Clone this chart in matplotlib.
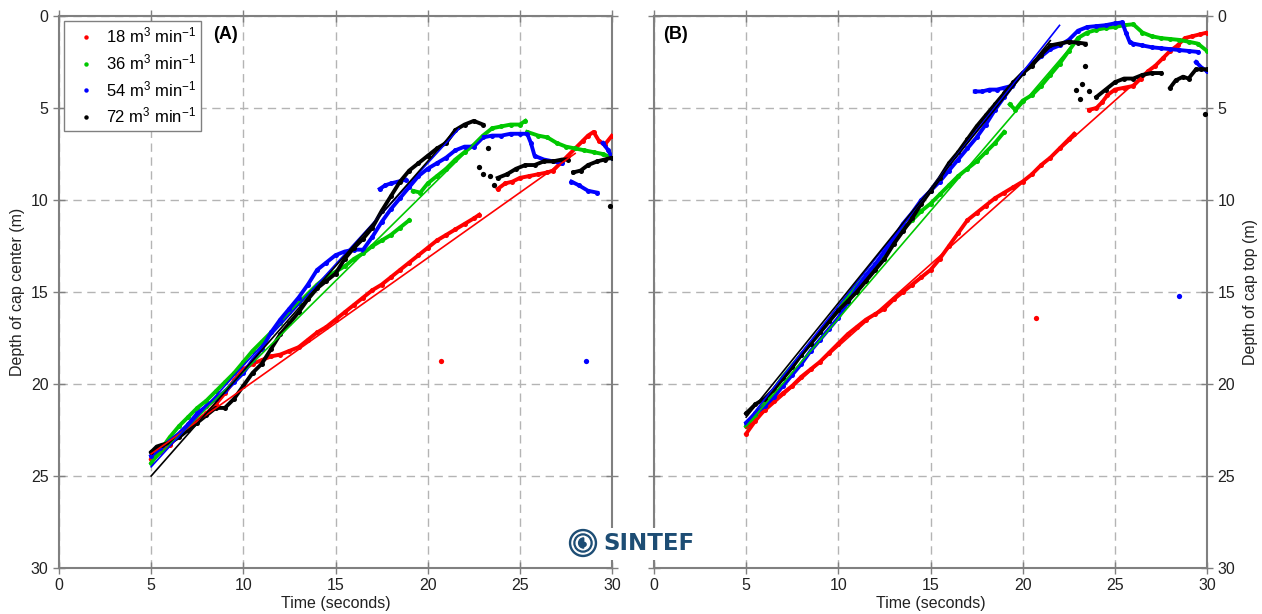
import numpy as np
import matplotlib
matplotlib.use("Agg")
import matplotlib.pyplot as plt
from matplotlib.patches import Circle, Wedge

plt.rcParams['font.family'] = ['Liberation Sans', 'DejaVu Sans']
plt.rcParams['mathtext.fontset'] = 'custom'
plt.rcParams['mathtext.rm'] = 'Liberation Sans'
plt.rcParams['mathtext.it'] = 'Liberation Sans:italic'

nan = np.nan

# flow rates / legend
labels = [r"18 m$^3$ min$^{-1}$", r"36 m$^3$ min$^{-1}$",
          r"54 m$^3$ min$^{-1}$", r"72 m$^3$ min$^{-1}$"]
colors = ['#ff0000', '#00c800', '#0000ff', '#000000']

# ---------------- panel A : depth of cap center ----------------
red_a_t = [5.0, 5.5, 6.0, 6.5, 7.0, 7.5, 8.0, 8.5, 9.0, 9.5, 10.0, 10.5, 11.0, 11.5,
           12.0, 12.5, 13.0, 13.5, 14.0, 14.5, 15.0, 15.5, 16.0, 16.5, 17.0, 17.5,
           18.0, 18.5, 19.0, 19.5, 20.0, 20.5, 21.0, 21.5, 22.0, 22.5, 22.8, nan,
           23.8, 24.2, 24.6, 25.0, 25.5, 26.0, 26.5, 26.8, 27.2, 27.6, 28.0, 28.4,
           28.7, 29.0, 29.3, 29.6, 30.0]
red_a_d = [24.1, 23.7, 23.3, 22.8, 22.4, 22.0, 21.6, 21.1, 20.5, 19.8, 19.2, 18.9, 18.7, 18.5,
           18.4, 18.2, 18.0, 17.6, 17.2, 16.9, 16.5, 16.1, 15.7, 15.3, 14.9, 14.6,
           14.2, 13.8, 13.4, 13.0, 12.6, 12.2, 11.9, 11.6, 11.3, 11.0, 10.8, nan,
           9.4, 9.1, 9.0, 8.8, 8.7, 8.6, 8.5, 8.4, 8.0, 7.6, 7.2, 6.8,
           6.5, 6.3, 6.8, 7.0, 6.5]
red_a_out_t = [20.7]
red_a_out_d = [18.75]

green_a_t = [5.0, 5.5, 6.0, 6.5, 7.0, 7.5, 8.0, 8.5, 9.0, 9.5, 10.0, 10.5, 11.0, 11.5,
             12.0, 12.5, 13.0, 13.5, 14.0, 14.5, 15.0, 15.5, 16.0, 16.5, 17.0, 17.5,
             18.0, 18.5, 19.0, nan, 19.2, 19.6, 20.0, 20.5, 21.0, 21.5, 22.0, 22.5,
             23.0, 23.5, 24.0, 24.5, 25.0, 25.3, nan, 25.4, 26.0, 26.5, 27.0, 27.5,
             28.0, 28.5, 29.0, 29.5, 30.0]
green_a_d = [24.3, 23.6, 22.9, 22.3, 21.8, 21.3, 20.9, 20.4, 19.9, 19.4, 18.8, 18.2, 17.7, 17.2,
             16.7, 16.1, 15.6, 15.1, 14.6, 14.2, 13.9, 13.6, 13.2, 12.9, 12.5, 12.2,
             11.9, 11.5, 11.1, nan, 9.5, 9.6, 9.1, 8.7, 8.3, 7.8, 7.4, 7.0,
             6.5, 6.1, 6.0, 5.9, 5.9, 5.7, nan, 6.3, 6.5, 6.6, 6.9, 7.1,
             7.2, 7.3, 7.4, 7.5, 7.7]
green_a_out_t = []
green_a_out_d = []

blue_a_t = [5.0, 5.5, 6.0, 6.5, 7.0, 7.5, 8.0, 8.5, 9.0, 9.5, 10.0, 10.5, 11.0, 11.5,
            12.0, 12.5, 13.0, 13.5, 14.0, 14.5, 15.0, 15.5, 16.0, 16.5, 17.0, 17.5,
            18.0, 18.5, 19.0, 19.5, 20.0, 20.5, 21.0, 21.5, 22.0, 22.5, 23.0, 23.5,
            24.0, 24.5, 25.0, 25.4, 25.6, 25.8, 26.3, 26.8, 27.3, nan, 27.8, 28.2,
            28.7, 29.2, nan, 29.5, 29.8, 30.0, nan, 17.4, 17.7, 18.0, 18.4, 18.8]
blue_a_d = [23.9, 23.5, 23.1, 22.7, 22.2, 21.6, 21.2, 20.8, 20.4, 19.9, 19.4, 18.7, 18.1, 17.2,
            16.5, 15.9, 15.3, 14.6, 13.8, 13.4, 13.0, 12.8, 12.7, 12.7, 12.0, 11.2,
            10.5, 9.9, 9.3, 8.7, 8.3, 8.0, 7.7, 7.3, 7.1, 7.1, 6.6, 6.5,
            6.5, 6.4, 6.4, 6.4, 6.9, 7.6, 7.8, 7.9, 8.0, nan, 9.0, 9.2,
            9.5, 9.6, nan, 6.9, 7.3, 7.7, nan, 9.4, 9.2, 9.1, 9.0, 8.9]
blue_a_out_t = [28.6]
blue_a_out_d = [18.75]

black_a_t = [5.0, 5.3, 5.6, 6.0, 6.5, 7.0, 7.5, 8.0, 8.5, 9.0, 9.5, 10.0, 10.5, 11.0,
             11.5, 12.0, 12.5, 13.0, 13.5, 14.0, 14.5, 15.0, 15.5, 16.0, 16.5, 17.0,
             17.5, 18.0, 18.5, 19.0, 19.5, 20.0, 20.5, 21.0, 21.5, 22.0, 22.5, 23.0, nan,
             23.8, 24.3, 24.8, 25.3, 25.8, 26.3, 26.8, 27.3, 27.6, nan,
             27.9, 28.3, 28.7, 29.2, 29.6, 30.0]
black_a_d = [23.7, 23.4, 23.3, 23.2, 22.9, 22.5, 22.1, 21.7, 21.3, 21.3, 20.8, 20.1, 19.4, 18.9,
             18.1, 17.3, 16.7, 16.1, 15.4, 14.8, 14.4, 14.0, 13.2, 12.6, 12.1, 11.5,
             10.6, 9.8, 9.0, 8.4, 8.0, 7.6, 7.2, 6.9, 6.2, 5.9, 5.7, 5.9, nan,
             8.8, 8.6, 8.3, 8.1, 8.1, 7.9, 7.9, 7.8, 7.8, nan,
             8.5, 8.4, 8.1, 7.9, 7.8, 7.7]
black_a_out_t = [22.8, 23.0, 23.3, 23.4, 23.6, 29.9]
black_a_out_d = [8.2, 8.6, 7.2, 8.7, 9.2, 10.3]

# linear fits (depth at t=5 s, ascent rate m/s, end time s)
fit_a_d5 = [23.8, 24.3, 24.5, 25.0]
fit_a_rate = [0.71, 0.99, 1.10, 1.14]
fit_a_end = [28.0, 22.9, 21.7, 21.5]

# ---------------- panel B : depth of cap top ----------------
red_b_t = [5.0, 5.5, 6.0, 6.5, 7.0, 7.5, 8.0, 8.5, 9.0, 9.5, 10.0, 10.5, 11.0, 11.5,
           12.0, 12.5, 13.0, 13.5, 14.0, 14.5, 15.0, 15.5, 16.0, 16.5, 17.0, 17.5,
           18.0, 18.5, 19.0, 19.5, 20.0, 20.5, 21.0, 21.5, 22.0, 22.5, 22.8, nan,
           23.6, 24.0, 24.3, 24.6, 25.0, 25.5, 26.0, 26.4, 26.8, 27.2, 27.6, 28.0,
           28.4, 28.8, 29.2, 29.6, 30.0]
red_b_d = [22.7, 22.0, 21.4, 20.9, 20.5, 20.1, 19.6, 19.2, 18.8, 18.3, 17.8, 17.3, 16.9, 16.5,
           16.2, 15.9, 15.4, 15.0, 14.6, 14.2, 13.8, 13.2, 12.5, 11.8, 11.1, 10.7,
           10.3, 9.9, 9.6, 9.3, 9.0, 8.6, 8.1, 7.7, 7.2, 6.7, 6.4, nan,
           5.1, 5.0, 4.7, 4.3, 4.0, 3.9, 3.8, 3.4, 3.0, 2.7, 2.3, 1.9,
           1.6, 1.2, 1.1, 1.0, 0.9]
red_b_out_t = [20.7]
red_b_out_d = [16.4]

green_b_t = [5.0, 5.5, 6.0, 6.5, 7.0, 7.5, 8.0, 8.5, 9.0, 9.5, 10.0, 10.5, 11.0, 11.5,
             12.0, 12.5, 13.0, 13.5, 14.0, 14.5, 15.0, 15.5, 16.0, 16.5, 17.0, 17.5,
             18.0, 18.5, 19.0, nan, 19.3, 19.6, 20.0, 20.5, 21.0, 21.5, 22.0, 22.5,
             23.0, 23.5, 24.0, 24.5, 25.0, 25.5, 26.0, 26.5, 27.0, 27.5, 28.0, 28.5,
             29.0, 29.5, 30.0]
green_b_d = [22.3, 21.7, 21.0, 20.3, 19.6, 19.0, 18.4, 17.8, 17.2, 16.6, 16.0, 15.3, 14.7, 14.1,
             13.5, 12.9, 12.2, 11.6, 11.1, 10.6, 10.2, 9.7, 9.2, 8.7, 8.3, 7.9,
             7.4, 6.9, 6.3, nan, 4.8, 5.1, 4.6, 4.3, 3.8, 3.2, 2.6, 1.9,
             1.2, 0.9, 0.75, 0.65, 0.6, 0.5, 0.45, 0.9, 1.1, 1.2, 1.25, 1.3,
             1.4, 1.5, 1.9]
green_b_out_t = []
green_b_out_d = []

blue_b_t = [5.0, 5.5, 6.0, 6.5, 7.0, 7.5, 8.0, 8.5, 9.0, 9.5, 10.0, 10.5, 11.0, 11.5,
            12.0, 12.5, 13.0, 13.5, 14.0, 14.5, 15.0, 15.5, 16.0, 16.5, 17.0, 17.5,
            18.0, 18.5, 19.0, 19.5, 20.0, 20.5, 21.0, 21.5, 22.0, 22.5, 23.0, 23.5,
            24.0, 24.5, 25.0, 25.4, 25.6, 25.8, 26.0, 26.5, 27.0, 27.5, 28.0, 28.5,
            29.0, 29.5, nan, 29.4, 29.7, 30.0, nan, 17.4, 17.8, 18.2, 18.6, 19.0, 19.4]
blue_b_d = [22.1, 21.6, 21.2, 20.7, 20.1, 19.5, 18.9, 18.2, 17.6, 17.0, 16.4, 15.6, 14.8, 14.1,
            13.5, 12.8, 12.1, 11.3, 10.7, 10.0, 9.5, 9.0, 8.4, 7.8, 7.2, 6.6,
            5.9, 5.1, 4.4, 3.7, 3.1, 2.6, 2.2, 1.8, 1.6, 1.3, 0.8, 0.6,
            0.55, 0.5, 0.4, 0.35, 0.9, 1.4, 1.5, 1.6, 1.7, 1.75, 1.8, 1.85,
            1.9, 1.95, nan, 2.5, 2.8, 3.0, nan, 4.1, 4.1, 4.0, 4.0, 3.9, 3.8]
blue_b_out_t = [28.5]
blue_b_out_d = [15.2]

black_b_t = [5.0, 5.5, 6.0, 6.5, 7.0, 7.5, 8.0, 8.5, 9.0, 9.5, 10.0, 10.5, 11.0, 11.5,
             12.0, 12.5, 13.0, 13.5, 14.0, 14.5, 15.0, 15.5, 16.0, 16.5, 17.0, 17.5,
             18.0, 18.5, 19.0, 19.5, 20.0, 20.5, 21.0, 21.5, 22.0, 22.5, 23.0, 23.4, nan,
             24.0, 24.5, 25.0, 25.5, 26.0, 26.5, 27.0, 27.5, nan,
             28.0, 28.3, 28.7, 29.0, 29.4, 29.7, 30.0]
black_b_d = [21.6, 21.1, 20.8, 20.3, 19.7, 19.1, 18.4, 17.8, 17.2, 16.6, 16.0, 15.5, 15.0, 14.4,
             13.8, 13.2, 12.4, 11.7, 11.0, 10.2, 9.5, 8.8, 8.0, 7.4, 6.7, 6.0,
             5.4, 4.8, 4.2, 3.6, 3.1, 2.7, 2.1, 1.6, 1.5, 1.4, 1.45, 1.5, nan,
             4.4, 4.0, 3.6, 3.4, 3.4, 3.2, 3.1, 3.1, nan,
             3.9, 3.5, 3.3, 3.4, 2.9, 2.9, 2.9]
black_b_out_t = [23.4, 23.2, 22.9, 23.1, 23.6, 29.9]
black_b_out_d = [2.7, 3.7, 4.0, 4.5, 4.1, 5.35]

fit_b_d5 = [22.4, 22.3, 22.1, 21.8]
fit_b_rate = [0.89, 1.17, 1.27, 1.24]
fit_b_end = [26.4, 22.7, 22.0, 21.5]

panel_a = [(red_a_t, red_a_d, red_a_out_t, red_a_out_d),
           (green_a_t, green_a_d, green_a_out_t, green_a_out_d),
           (blue_a_t, blue_a_d, blue_a_out_t, blue_a_out_d),
           (black_a_t, black_a_d, black_a_out_t, black_a_out_d)]
panel_b = [(red_b_t, red_b_d, red_b_out_t, red_b_out_d),
           (green_b_t, green_b_d, green_b_out_t, green_b_out_d),
           (blue_b_t, blue_b_d, blue_b_out_t, blue_b_out_d),
           (black_b_t, black_b_d, black_b_out_t, black_b_out_d)]

GRAY = '#808080'
LOGO = '#1d4d74'
W, H = 1262, 614


def style_axes(ax, right_labels=False):
    ax.set_xlim(0, 30)
    ax.set_ylim(30, 0)
    ax.set_xticks(range(0, 31, 5))
    ax.set_yticks(range(0, 31, 5))
    ax.grid(True, ls=(0, (6, 4)), color='#b4b4b4', lw=1.0)
    ax.set_axisbelow(True)
    for s in ax.spines.values():
        s.set_color(GRAY)
        s.set_linewidth(1.5)
    ax.tick_params(direction='inout', length=9, width=1, color=GRAY,
                   top=True, right=True, labelsize=11.5, labelcolor='#222222',
                   labelleft=not right_labels, labelright=right_labels, pad=3)
    ax.set_xlabel('Time (seconds)', fontsize=11.5, labelpad=2, color='#222222')


def draw_panel(ax, series, d5, rate, t_end):
    for (t, d, ot, od), c in zip(series, colors):
        ax.plot(t, d, '-o', color=c, lw=2.8, ms=3.6, mew=0, zorder=3)
        if ot:
            ax.plot(ot, od, 'o', color=c, ms=3.8, mew=0, zorder=3)
    for c, a, r, e in zip(colors, d5, rate, t_end):
        tt = np.array([5.0, e])
        ax.plot(tt, a - r * (tt - 5.0), color=c, lw=1.2, zorder=4)


fig = plt.figure(figsize=(W / 100, H / 100), dpi=100)
ax_a = fig.add_axes([59 / W, 1 - 568 / H, 553 / W, 552 / H])
ax_b = fig.add_axes([654 / W, 1 - 568 / H, 553 / W, 552 / H])

style_axes(ax_a)
style_axes(ax_b, right_labels=True)
ax_a.set_ylabel('Depth of cap center (m)', fontsize=11.5, labelpad=4, color='#222222')
ax_b.yaxis.set_label_position('right')
ax_b.set_ylabel('Depth of cap top (m)', fontsize=11.5, labelpad=6, color='#222222')

draw_panel(ax_a, panel_a, fit_a_d5, fit_a_rate, fit_a_end)
draw_panel(ax_b, panel_b, fit_b_d5, fit_b_rate, fit_b_end)

ax_a.text(0.278, 0.966, '(A)', transform=ax_a.transAxes, fontsize=13,
          fontweight='bold', va='center', ha='left')
ax_b.text(0.016, 0.966, '(B)', transform=ax_b.transAxes, fontsize=13,
          fontweight='bold', va='center', ha='left')

handles = [ax_a.plot([], [], 'o', color=c, ms=3.2, mew=0)[0] for c in colors]
leg = ax_a.legend(handles, labels, loc='upper left', bbox_to_anchor=(0.009, 0.991),
                  borderaxespad=0, fontsize=12, frameon=True, fancybox=False,
                  handlelength=2.1, handletextpad=0.12, labelspacing=0.4,
                  borderpad=0.3)
leg.get_frame().set_edgecolor(GRAY)
leg.get_frame().set_linewidth(1.0)
leg.get_frame().set_alpha(1)
leg.set_zorder(10)

# SINTEF logo
fig.text(603 / W, 1 - 544 / H, 'SINTEF', fontsize=16.5, fontweight='bold', color=LOGO,
         family='DejaVu Sans', ha='left', va='center', zorder=20,
         bbox=dict(facecolor='white', edgecolor='none', pad=3))
ax_logo = fig.add_axes([566 / W, 1 - 560 / H, 34 / W, 34 / H], zorder=20)
ax_logo.set_xlim(-1.2, 1.2)
ax_logo.set_ylim(-1.2, 1.2)
ax_logo.set_aspect('equal')
ax_logo.axis('off')
ax_logo.add_patch(Circle((0, 0), 1.2, color='white'))
ax_logo.add_patch(Circle((0, 0), 0.95, color=LOGO))
ax_logo.add_patch(Circle((0, 0), 0.78, color='white'))
ax_logo.add_patch(Circle((0, 0), 0.64, color=LOGO))
ax_logo.add_patch(Circle((0, 0), 0.48, color='white'))
ax_logo.add_patch(Wedge((0.05, 0.0), 0.36, 90, 270, color=LOGO))
ax_logo.add_patch(Circle((0.08, -0.1), 0.14, color=LOGO))

fig.savefig('out.png', dpi=100, facecolor='white')
